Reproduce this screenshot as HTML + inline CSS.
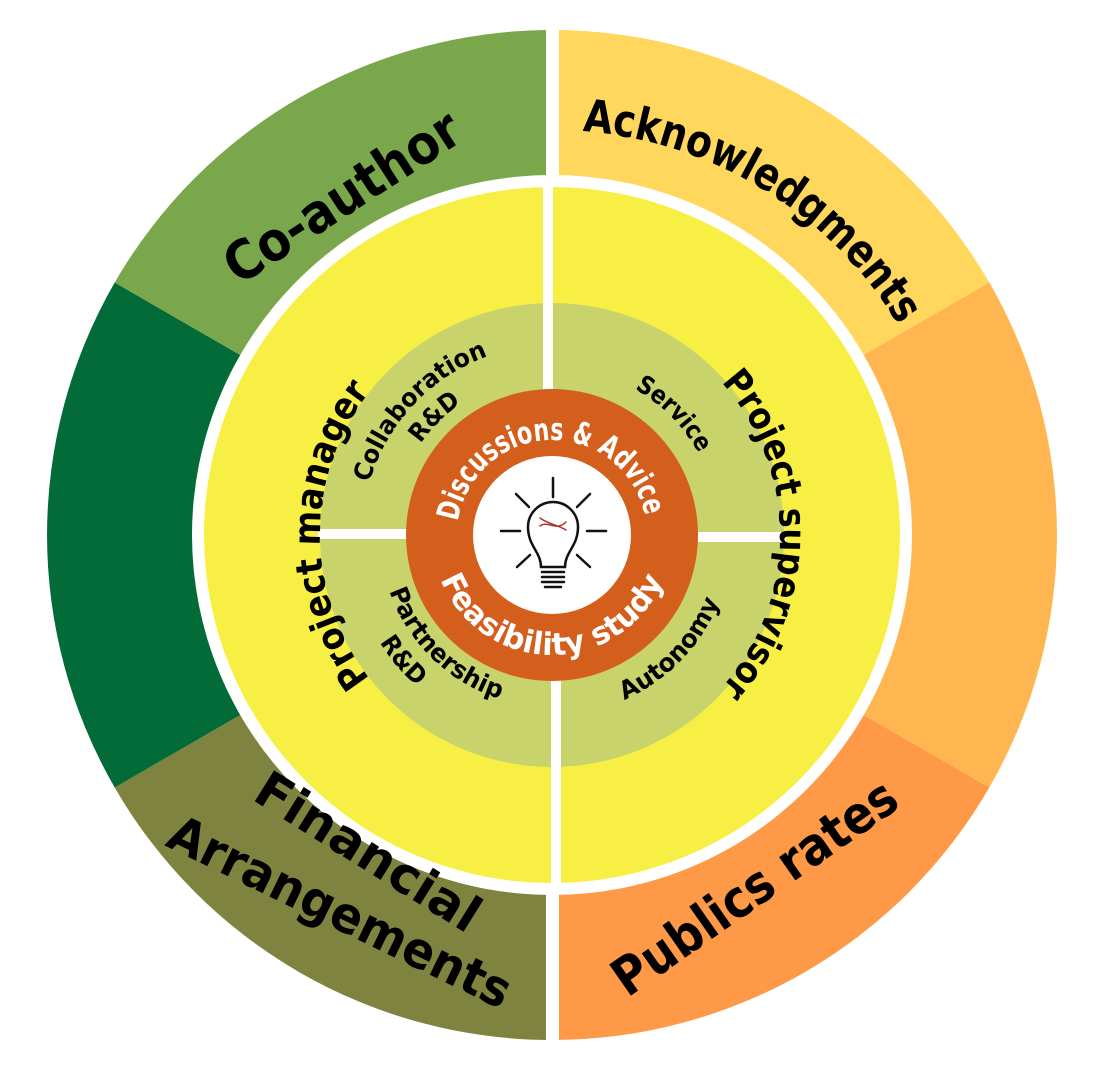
<!DOCTYPE html>
<html><head><meta charset="utf-8"><style>
html,body{margin:0;padding:0;background:#fff;}
svg{display:block;}
text{font-family:"DejaVu Sans","Liberation Sans",sans-serif;font-weight:bold;}
</style></head><body>
<svg width="1108" height="1076" viewBox="0 0 1108 1076" xmlns="http://www.w3.org/2000/svg">
<defs>
<path id="cw95" d="M457 535 A95 95 0 0 1 647 535 A95 95 0 0 1 457 535"/>
<path id="cw405" d="M147 535 A405 405 0 0 1 957 535 A405 405 0 0 1 147 535"/>
<path id="cw190" d="M362 535 A190 190 0 0 1 742 535 A190 190 0 0 1 362 535"/>
<path id="cw160" d="M392 535 A160 160 0 0 1 712 535 A160 160 0 0 1 392 535"/>
<path id="cw168" d="M384 535 A168 168 0 0 1 720 535 A168 168 0 0 1 384 535"/>
<path id="cw228" d="M324 535 A228 228 0 0 1 780 535 A228 228 0 0 1 324 535"/>
<path id="pm" d="M552 767 A232 232 0 0 1 552 303"/>
<path id="ccw120" d="M432 535 A120 120 0 0 0 672 535 A120 120 0 0 0 432 535"/>
<path id="ccw172" d="M380 535 A172 172 0 0 0 724 535 A172 172 0 0 0 380 535"/>
<path id="ccw203" d="M349 535 A203 203 0 0 0 755 535 A203 203 0 0 0 349 535"/>
<path id="ccw180" d="M372 535 A180 180 0 0 0 732 535 A180 180 0 0 0 372 535"/>
</defs>
<path d="M552 535 L552 30 A505 505 0 0 1 989.3 282.5 Z" fill="#ffd75d"/>
<path d="M552 535 L989.3 282.5 A505 505 0 0 1 989.3 787.5 Z" fill="#ffb650"/>
<path d="M552 535 L989.3 787.5 A505 505 0 0 1 552 1040 Z" fill="#fd9947"/>
<path d="M552 535 L552 1040 A505 505 0 0 1 114.7 787.5 Z" fill="#7f8340"/>
<path d="M552 535 L114.7 787.5 A505 505 0 0 1 114.7 282.5 Z" fill="#036b37"/>
<path d="M552 535 L114.7 282.5 A505 505 0 0 1 552 30 Z" fill="#7ba74c"/>
<circle cx="552" cy="535" r="360" fill="#fff"/>
<rect x="546" y="20" width="13" height="1030" fill="#fff"/>
<circle cx="552" cy="535" r="348" fill="#f8ef45"/>
<circle cx="552" cy="535" r="232" fill="#c8d46b"/>
<rect x="543" y="180" width="10" height="360" fill="#fff"/>
<rect x="551" y="530" width="10" height="360" fill="#fff"/>
<rect x="318" y="529" width="236" height="10" fill="#fff"/>
<rect x="550" y="532" width="236" height="10" fill="#fff"/>
<circle cx="552" cy="535" r="146" fill="#d45e1c"/>
<circle cx="552" cy="535" r="79" fill="#fff"/>
<g stroke="#111" stroke-width="2.5" fill="none" stroke-linecap="round">
<line x1="553" y1="478" x2="553" y2="497"/>
<line x1="516" y1="494" x2="529" y2="507"/>
<line x1="590" y1="494" x2="577" y2="507"/>
<line x1="501" y1="531" x2="520" y2="531"/>
<line x1="587" y1="531" x2="606" y2="531"/>
<line x1="517" y1="567" x2="530" y2="555"/>
<line x1="590" y1="567" x2="577" y2="555"/>
<path d="M541 567 C541 552 528 546 528 527 A25 25 0 0 1 578 527 C578 546 565 552 565 567 Z"/>
<line x1="542" y1="572" x2="564" y2="572"/>
<line x1="542" y1="577" x2="564" y2="577"/>
<line x1="542" y1="582" x2="564" y2="582"/>
<line x1="545" y1="587" x2="561" y2="587"/>
<path d="M540 518 C548 524 556 524 566 530 M540 526 C548 520 556 532 566 522" stroke-width="1.5" stroke="#a33"/>
</g>
<text font-size="31" fill="#fff" text-anchor="middle"><textPath href="#cw95" startOffset="146" textLength="265" lengthAdjust="spacingAndGlyphs">Discussions &amp; Advice</textPath></text>
<text font-size="31" fill="#fff" text-anchor="middle"><textPath href="#ccw120" startOffset="188" textLength="285" lengthAdjust="spacingAndGlyphs">Feasibility study</textPath></text>
<text font-size="45" fill="#000" text-anchor="middle"><textPath href="#cw405" startOffset="859" textLength="385" lengthAdjust="spacingAndGlyphs">Acknowledgments</textPath></text>
<text font-size="25" fill="#000" text-anchor="middle"><textPath href="#cw190" startOffset="143" textLength="180" lengthAdjust="spacingAndGlyphs">Collaboration</textPath></text>
<text font-size="25" fill="#000" text-anchor="middle"><textPath href="#cw160" startOffset="126" textLength="58" lengthAdjust="spacingAndGlyphs">R&amp;D</textPath></text>
<text font-size="25" fill="#000" text-anchor="middle"><textPath href="#cw168" startOffset="396" textLength="92" lengthAdjust="spacingAndGlyphs">Service</textPath></text>
<text font-size="25" fill="#000" text-anchor="middle"><textPath href="#ccw172" startOffset="137" textLength="160" lengthAdjust="spacingAndGlyphs">Partnership</textPath></text>
<text font-size="25" fill="#000" text-anchor="middle"><textPath href="#ccw203" startOffset="142" textLength="58" lengthAdjust="spacingAndGlyphs">R&amp;D</textPath></text>
<text font-size="25" fill="#000" text-anchor="middle"><textPath href="#ccw180" startOffset="427" textLength="140" lengthAdjust="spacingAndGlyphs">Autonomy</textPath></text>
<text font-size="37" fill="#000" text-anchor="middle"><textPath href="#pm" startOffset="50%" textLength="310" lengthAdjust="spacingAndGlyphs">Project manager</textPath></text>
<text font-size="37" fill="#000" text-anchor="middle"><textPath href="#cw228" startOffset="716" textLength="335" lengthAdjust="spacingAndGlyphs">Project supervisor</textPath></text>
<text x="0" y="0" font-size="54" text-anchor="middle" dominant-baseline="central" textLength="270" lengthAdjust="spacingAndGlyphs" transform="translate(342,197) rotate(-33)">Co-author</text>
<text x="0" y="0" font-size="50" text-anchor="middle" dominant-baseline="central" textLength="255" lengthAdjust="spacingAndGlyphs" transform="translate(368,852) rotate(32)">Financial</text>
<text x="0" y="0" font-size="50" text-anchor="middle" dominant-baseline="central" textLength="375" lengthAdjust="spacingAndGlyphs" transform="translate(340,912) rotate(26)">Arrangements</text>
<text x="0" y="0" font-size="52" text-anchor="middle" dominant-baseline="central" textLength="335" lengthAdjust="spacingAndGlyphs" transform="translate(755,888) rotate(-35)">Publics rates</text>
</svg>
</body></html>
